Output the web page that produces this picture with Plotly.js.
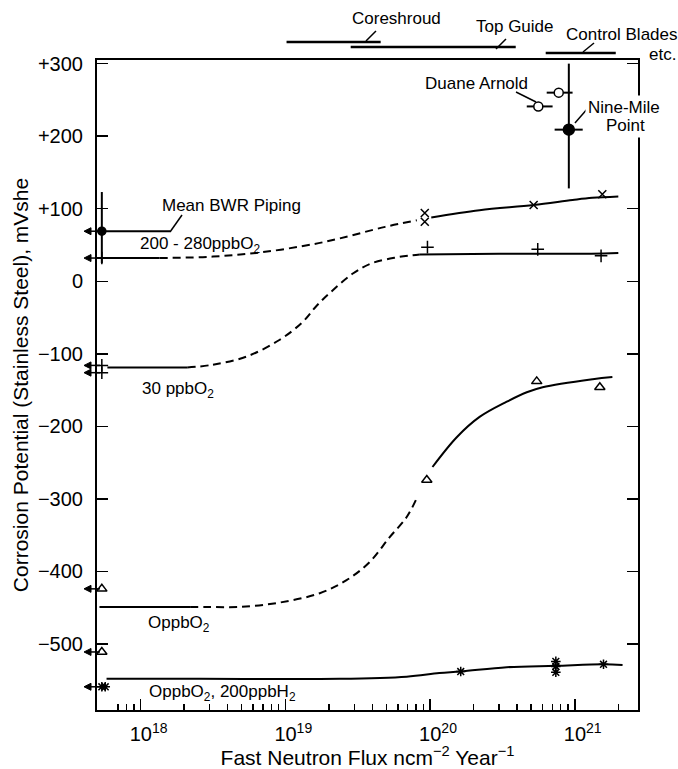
<!DOCTYPE html>
<html><head><meta charset="utf-8">
<script src="https://cdn.plot.ly/plotly-3.0.1.min.js"></script>
<style>html,body{margin:0;padding:0;background:#fff}</style>
</head><body>
<div id="chart" style="width:678px;height:769px"></div>
<script>
// ---------------- DATA (flux in n cm^-2 yr^-1, potential in mV SHE) ----------------
// 200 - 280 ppb O2
const hiO2FluxA = [5.0e17, 1.35e18];
const hiO2PotA = [32, 32];
const hiO2FluxDash = [1.35e18, 3.16e18, 6.9e18, 1.55e19, 2.37e19, 4.9e19, 8.1e19];
const hiO2PotDash = [32, 34, 40, 51, 59, 75, 84];
const hiO2FluxB = [1.02e20, 2.2e20, 5.2e20, 9.66e20, 1.32e21, 2.0e21];
const hiO2PotB = [88, 98, 105, 112, 115, 117];
// 30 ppb O2
const o2_30FluxA = [5.9e17, 2.1e18];
const o2_30PotA = [-119, -119];
const o2_30FluxDash = [2.1e18, 3.16e18, 5.37e18, 9.1e18, 1.32e19, 1.66e19, 2.14e19, 2.95e19, 3.98e19, 5.9e19, 7.6e19, 8.5e19];
const o2_30PotDash = [-119, -115, -104, -81, -56, -33, -12, 11, 25, 33, 36, 37];
const o2_30FluxB = [8.5e19, 3.0e20, 1.3e21, 2.0e21];
const o2_30PotB = [37, 38, 38, 39];
// 0 ppb O2
const o2_0FluxA = [5.2e17, 2.2e18];
const o2_0PotA = [-449, -449];
const o2_0FluxDash = [2.2e18, 2.86e18, 4.83e18, 9.1e18, 1.73e19, 2.65e19, 3.83e19, 5.25e19, 6.9e19, 8.1e19];
const o2_0PotDash = [-449, -449, -449, -443, -430, -412, -387, -353, -325, -299];
const o2_0FluxB = [1.04e20, 1.53e20, 2.2e20, 3.39e20, 4.66e20, 6.0e20, 1.33e21, 1.82e21];
const o2_0PotB = [-256, -215, -187, -166, -153, -146, -135, -132];
// 0 ppb O2, 200 ppb H2
const h2Flux = [5.82e17, 2.56e18, 2.37e19, 6.9e19, 1.16e20, 1.63e20, 3.39e20, 7.38e20, 1.58e21, 2.14e21];
const h2Pot = [-548, -548, -548, -545, -540, -538, -532, -530, -528, -529];
// measured points on curves
const xMarkFlux = [9.2e19, 9.2e19, 5.2e20, 1.55e21];
const xMarkPot = [94, 82, 105, 120];
const plusFlux = [9.6e19, 5.55e20, 1.52e21];
const plusPot = [47, 44, 35];
const triFlux = [9.5e19, 5.46e20, 1.49e21];
const triPot = [-274, -138, -146];
const starFlux = [1.63e20, 7.4e20, 7.4e20, 7.4e20, 1.58e21];
const starPot = [-538, -524, -531, -539, -528];
// out-of-core reference values (plotted at the left axis)
const axisFlux = [5.4e17];
const bwrPot = [69];
const bwrErrPlus = [54];
const bwrErrMinus = [44];
const bwrLineFlux = [5.0e17, 1.6e18];
const axisPlusPot = [32, -116, -126];
const axisTriPot = [-424, -511];
const axisStarFlux = [5.4e17, 5.7e17];
const axisStarPot = [-559, -559];
const arrowPots = [69, 32, -116, -126, -424, -511, -559];
// plant data
const duaneFlux = [7.75e20, 5.6e20];
const duanePot = [260, 241];
const duaneFluxLo = [6.4e20, 4.66e20];
const duaneFluxHi = [9.66e20, 7.03e20];
const nmpFlux = [9.1e20];
const nmpPot = [209];
const nmpFluxLo = [7.26e20];
const nmpFluxHi = [1.135e21];
const nmpPotLo = [128];
const nmpPotHi = [300];
// component flux ranges
const compNames = ['Coreshroud', 'Top Guide', 'Control Blades'];
const compFluxLo = [1.02e19, 2.83e19, 6.3e20];
const compFluxHi = [4.56e19, 3.91e20, 1.92e21];
// axis ticks
const xTickVals = [1e18, 1e19, 1e20, 1e21];
const xTickText = ['10<sup>18</sup>', '10<sup>19</sup>', '10<sup>20</sup>', '10<sup>21</sup>'];
const yTickVals = [300, 200, 100, 0, -100, -200, -300, -400, -500];
const yTickText = ['+300', '+200', '+100', '0', '\u2212100', '\u2212200', '\u2212300', '\u2212400', '\u2212500'];

// ---------------- BUILD ----------------
const FONT = 'Liberation Sans, Arial, Helvetica, sans-serif';
const LW = 2;
const DASH = '8px,5px';
const XRANGE = [17.699, 21.437];
function line(x, y, dashed, xaxis) {
  return {x: x, y: y, type: 'scatter', mode: 'lines', hoverinfo: 'skip', xaxis: xaxis || 'x',
    line: {color: 'black', width: LW, shape: 'spline', smoothing: 1, dash: dashed ? DASH : 'solid'}};
}
function marks(x, y, symbol, size, extra) {
  return Object.assign({x: x, y: y, type: 'scatter', mode: 'markers', cliponaxis: false, hoverinfo: 'skip',
    marker: {symbol: symbol, size: size, color: 'black', line: {color: 'black', width: 1.5}}}, extra || {});
}
const diff = (a, b) => a.map((v, i) => v - b[i]);

const traces = [
  line(hiO2FluxA, hiO2PotA, false), line(hiO2FluxDash, hiO2PotDash, true), line(hiO2FluxB, hiO2PotB, false),
  line(o2_30FluxA, o2_30PotA, false), line(o2_30FluxDash, o2_30PotDash, true), line(o2_30FluxB, o2_30PotB, false),
  line(o2_0FluxA, o2_0PotA, false), line(o2_0FluxDash, o2_0PotDash, true), line(o2_0FluxB, o2_0PotB, false),
  line(h2Flux, h2Pot, false, 'x2'),
  line(bwrLineFlux, [bwrPot[0], bwrPot[0]], false),
  marks(xMarkFlux, xMarkPot, 'x-thin-open', 8),
  marks(plusFlux, plusPot, 'cross-thin-open', 9),
  marks(triFlux, triPot, 'triangle-up-open', 9),
  marks(starFlux, starPot, 'asterisk-open', 8),
  marks(axisPlusPot.map(() => axisFlux[0]), axisPlusPot, 'cross-thin-open', 9),
  marks(axisTriPot.map(() => axisFlux[0]), axisTriPot, 'triangle-up-open', 9),
  marks(axisStarFlux, axisStarPot, 'asterisk-open', 8),
  marks(axisFlux, bwrPot, 'circle', 8, {error_y: {type: 'data', symmetric: false, array: bwrErrPlus, arrayminus: bwrErrMinus, color: 'black', thickness: 2, width: 0}}),
  marks(duaneFlux, duanePot, 'circle', 9, {
    marker: {symbol: 'circle', size: 9, color: 'white', line: {color: 'black', width: 1.5}},
    error_x: {type: 'data', symmetric: false, array: diff(duaneFluxHi, duaneFlux), arrayminus: diff(duaneFlux, duaneFluxLo), color: 'black', thickness: 2, width: 0}}),
  marks(nmpFlux, nmpPot, 'circle', 11, {
    error_x: {type: 'data', symmetric: false, array: diff(nmpFluxHi, nmpFlux), arrayminus: diff(nmpFlux, nmpFluxLo), color: 'black', thickness: 2, width: 0},
    error_y: {type: 'data', symmetric: false, array: diff(nmpPotHi, nmpPot), arrayminus: diff(nmpPot, nmpPotLo), color: 'black', thickness: 2, width: 0}})
];

// minor tick positions (2..9 x each decade) for the log axis, from 7e17 on as in the original
const minorVals = [];
for (let e = 17; e <= 21; e++) for (let d = 2; d <= 9; d++) {
  const v = d * Math.pow(10, e);
  if (v >= 7e17) minorVals.push(v);
}

const compY = [1.0277, 1.02, 1.0108];
const shapes = compNames.map((n, i) => ({type: 'line', xref: 'x', yref: 'paper', x0: compFluxLo[i], x1: compFluxHi[i], y0: compY[i], y1: compY[i], line: {color: 'black', width: 2.5}}));
const leaders = [
  [0.4972, 1.0292, 0.5157, 1.0446],
  [0.7375, 1.0169, 0.756, 1.0323],
  [0.8983, 1.0123, 0.9187, 1.0262],
  [0.7745, 0.9508, 0.8115, 0.9354],
  [0.8835, 0.9031, 0.9076, 0.9262],
  [0.1349, 0.7354, 0.1571, 0.7615]
];
leaders.forEach(l => shapes.push({type: 'line', xref: 'paper', yref: 'paper', x0: l[0], y0: l[1], x1: l[2], y1: l[3], line: {color: 'black', width: 1.5}}));
// arrows pointing out of the left axis
arrowPots.forEach(p => {
  shapes.push({type: 'path', xref: 'paper', yref: 'y', xsizemode: 'pixel', ysizemode: 'pixel', xanchor: 0, yanchor: p,
    path: 'M -8 0 L 3 0', line: {color: 'black', width: 1.5}});
  shapes.push({type: 'path', xref: 'paper', yref: 'y', xsizemode: 'pixel', ysizemode: 'pixel', xanchor: 0, yanchor: p,
    path: 'M -13 0 L -6 3.5 L -6 -3.5 Z', fillcolor: 'black', line: {color: 'black', width: 1}});
});

const annotations = [];
function lab(text, x, y, extra) {
  annotations.push(Object.assign({text: text, x: x, y: y, xref: 'paper', yref: 'paper', xanchor: 'center', yanchor: 'middle', showarrow: false, font: {size: 17, family: FONT, color: 'black'}}, extra || {}));
}
lab(compNames[0], 0.5545, 1.0631);
lab(compNames[1], 0.7726, 1.0523);
lab(compNames[2], 0.9704, 1.0385);
lab('etc.', 1.0462, 1.0077);
lab('Duane Arnold', 0.7006, 0.9646);
lab('Nine-Mile', 0.9741, 0.9262, {bgcolor: 'white', borderpad: 2});
lab('Point', 0.9760, 0.8985, {bgcolor: 'white', borderpad: 2});
lab('Mean BWR Piping', 0.2495, 0.7769);
lab('200 - 280ppbO<sub>2</sub>', 0.1904, 0.716);
lab('30 ppbO<sub>2</sub>', 0.1497, 0.492);
lab('OppbO<sub>2</sub>', 0.1516, 0.133);
lab('OppbO<sub>2</sub>, 200ppbH<sub>2</sub>', 0.2311, 0.026);

const layout = {
  width: 678, height: 769,
  margin: {l: 97, r: 40, t: 60, b: 59},
  paper_bgcolor: 'white', plot_bgcolor: 'white', showlegend: false,
  font: {family: FONT, color: 'black', size: 17},
  xaxis: {
    type: 'log', range: XRANGE, autorange: false,
    showline: true, linewidth: 2, linecolor: 'black', mirror: true,
    ticks: 'inside', ticklen: 6, tickwidth: 1.5, tickcolor: '#000000',
    tickmode: 'array', tickvals: minorVals, showticklabels: false,
    showgrid: false, zeroline: false, automargin: false
  },
  xaxis2: {
    type: 'log', range: XRANGE, autorange: false, overlaying: 'x', anchor: 'y', side: 'bottom',
    showline: false, ticks: 'inside', ticklen: 11, tickwidth: 1.5, tickcolor: '#000000',
    tickmode: 'array', tickvals: xTickVals, ticktext: xTickText,
    tickfont: {size: 20, family: FONT, color: 'black'}, ticklabelshift: 8, ticklabelstandoff: 10,
    showgrid: false, zeroline: false, automargin: false,
    title: {text: 'Fast Neutron Flux ncm<sup>\u22122</sup> Year<sup>\u22121</sup>', font: {size: 21, family: FONT, color: 'black'}, standoff: 16}
  },
  yaxis: {
    range: [-591, 305], autorange: false,
    showline: true, linewidth: 2, linecolor: 'black', mirror: 'ticks',
    ticks: 'inside', ticklen: 11, tickwidth: 1.5, tickcolor: 'black',
    tickmode: 'array', tickvals: yTickVals, ticktext: yTickText,
    tickfont: {size: 20, family: FONT, color: 'black'}, ticklabelstandoff: 8,
    showgrid: false, zeroline: false, automargin: false,
    title: {text: 'Corrosion Potential (Stainless Steel), mVshe', font: {size: 21, family: FONT, color: 'black'}, standoff: 4}
  },
  shapes: shapes,
  annotations: annotations
};
Plotly.newPlot('chart', traces, layout, {staticPlot: true, displayModeBar: false});
</script>
</body></html>
